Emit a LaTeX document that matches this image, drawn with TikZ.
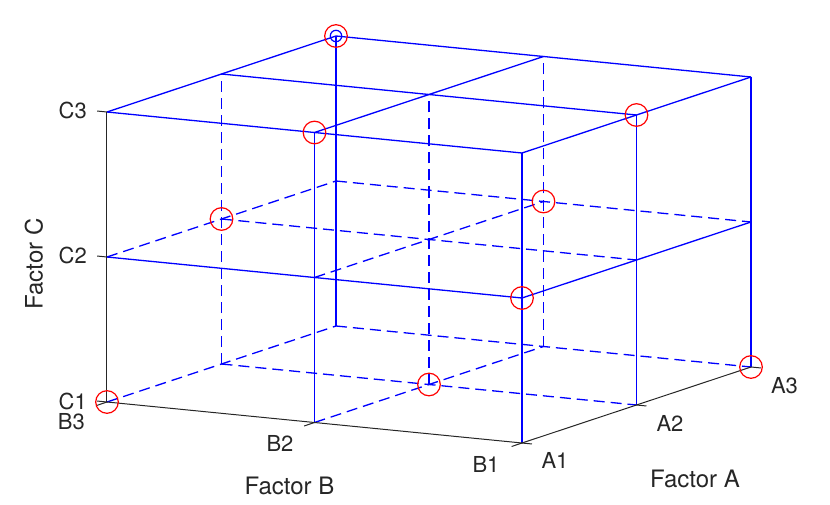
\documentclass[tikz,border=0pt]{standalone}
\usepackage{fontspec}
\setmainfont{TeX Gyre Heros}
\definecolor{mblue}{RGB}{0,0,255}
\definecolor{mred}{RGB}{255,0,0}
\definecolor{axgray}{RGB}{38,38,38}
\begin{document}
\begin{tikzpicture}[
  x={(114.5pt,38pt)}, y={(207.5pt,-20.5pt)}, z={(0pt,145pt)},
  gridsolid/.style={draw=mblue, line width=1.3pt},
  griddash/.style={draw=mblue, line width=1.3pt, dash pattern=on 11pt off 6pt},
  axisline/.style={draw=axgray, line width=1pt},
  tickline/.style={draw=axgray, line width=1pt},
  ticklabel/.style={text=axgray, font=\fontsize{22}{26}\selectfont, inner sep=0pt},
  axislabel/.style={text=axgray, font=\fontsize{24}{28}\selectfont, inner sep=0pt},
  designpt/.style={circle, draw=mred, line width=1.2pt, minimum size=22.6pt, inner sep=0pt},
  smallmark/.style={circle, draw=mblue, line width=1.2pt, minimum size=11.4pt, inner sep=0pt}
]
\path[use as bounding box] (-107pt,-102pt) rectangle (723pt,402pt);

\foreach \i in {0,1,2}{
  \foreach \j in {0,1,2}{
    \foreach \k in {0,1,2}{
      \coordinate (p\i\j\k) at (\i,\j,\k);
    }
  }
}

% top layer (all solid)
\foreach \i in {0,1,2}{ \draw[gridsolid] (p\i02) -- (p\i22); }
\foreach \j in {0,1,2}{ \draw[gridsolid] (p0\j2) -- (p2\j2); }

% middle layer
\draw[gridsolid] (p001) -- (p021);
\draw[gridsolid] (p021) -- (p221);
\draw[griddash] (p101) -- (p121);
\draw[griddash] (p201) -- (p221);
\draw[griddash] (p001) -- (p201);
\draw[griddash] (p011) -- (p211);

% bottom layer
\draw[griddash] (p100) -- (p120);
\draw[griddash] (p200) -- (p220);
\draw[griddash] (p000) -- (p200);
\draw[griddash] (p010) -- (p210);

% verticals
\draw[gridsolid] (p010) -- (p012);
\draw[gridsolid] (p020) -- (p022);
\draw[gridsolid] (p120) -- (p122);
\draw[gridsolid] (p200) -- (p202);
\draw[gridsolid] (p220) -- (p222);
\draw[griddash] (p100) -- (p102);
\draw[griddash] (p110) -- (p112);
\draw[griddash] (p210) -- (p212);

% axes
\draw[axisline] (p000) -- (p002);
\draw[axisline] (p000) -- (p020);
\draw[axisline] (p020) -- (p220);

% ticks
\foreach \k in {0,1,2}{ \draw[tickline] (p00\k) -- ++(-9.95pt,0.98pt); }
\foreach \j in {0,1,2}{ \draw[tickline] (p0\j0) -- ++(-10.4pt,-3.5pt); }
\foreach \i in {0,1,2}{ \draw[tickline] (p\i20) -- ++(9.95pt,-0.98pt); }

% tick labels
\node[ticklabel, anchor=east] (lc3) at (-20pt,292pt) {C3};
\node[ticklabel, anchor=east] (lc2) at (-20pt,147pt) {C2};
\node[ticklabel, anchor=east] (lc1) at (-20pt,1pt) {C1};
\node[ticklabel, anchor=east] (lb3) at (-22pt,-19.5pt) {B3};
\node[ticklabel] (lb2) at (173pt,-41.5pt) {B2};
\node[ticklabel] (lb1) at (379pt,-62.5pt) {B1};
\node[ticklabel] (la1) at (448pt,-58.5pt) {A1};
\node[ticklabel] (la2) at (563pt,-21.5pt) {A2};
\node[ticklabel] (la3) at (677.5pt,16pt) {A3};

% axis labels
\node[axislabel] (fb) at (182.5pt,-84pt) {Factor B};
\node[axislabel] (fa) at (588pt,-76.5pt) {Factor A};
\node[axislabel, rotate=90] (fc) at (-73pt,138pt) {Factor C};

% design points
\node[smallmark] (sm) at (p202) {};
\foreach \p/\n in {202/d1, 012/d2, 122/d3, 101/d4, 211/d5, 021/d6, 000/d7, 110/d8, 220/d9}{
  \node[designpt] (\n) at (p\p) {};
}
\end{tikzpicture}
\end{document}
